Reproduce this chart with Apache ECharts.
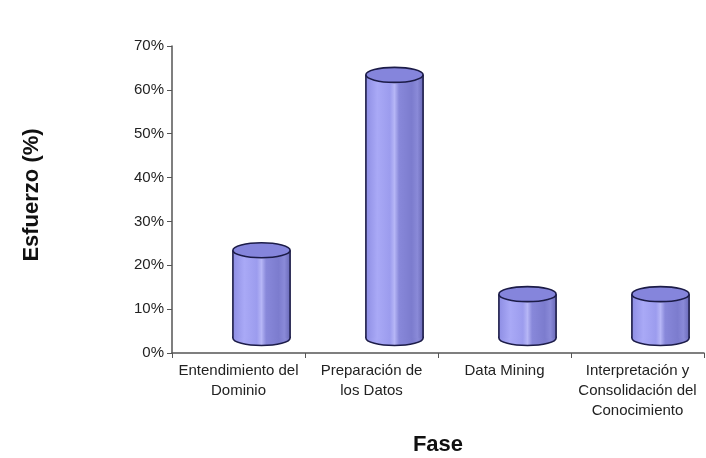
<!DOCTYPE html>
<html>
<head>
<meta charset="utf-8">
<script src="https://cdn.jsdelivr.net/npm/echarts@6/dist/echarts.min.js"></script>
<style>
  html, body { margin: 0; padding: 0; background: #fff; }
  #chart { width: 706px; height: 458px; }
</style>
</head>
<body>
<div id="chart"></div>
<script>
// data
const fases = [
  'Entendimiento del\nDominio',
  'Preparación de\nlos Datos',
  'Data Mining',
  'Interpretación y\nConsolidación del\nConocimiento'
];
const esfuerzo = [20, 60, 10, 10];
const yTicks = [0, 10, 20, 30, 40, 50, 60, 70];

const fontFamily = '"Liberation Sans", Arial, sans-serif';
// fake 3D depth of the old chart
const depthX = 23;
const depthY = 15;

const bodyFill = new echarts.graphic.LinearGradient(0, 0, 1, 0, [
  { offset: 0, color: '#8e8ee4' },
  { offset: 0.2, color: '#a9a9f6' },
  { offset: 0.42, color: '#9c9cee' },
  { offset: 0.5, color: '#b6b6f6' },
  { offset: 0.58, color: '#8888da' },
  { offset: 0.8, color: '#7c7cce' },
  { offset: 0.9, color: '#8a8ad8' },
  { offset: 1, color: '#6a6ab8' }
]);

function renderCylinder(params, api) {
  const idx = api.value(0);
  const top = api.coord([idx, api.value(1)]);
  const base = api.coord([idx, 0]);
  const band = api.size([1, 0])[0];
  const rx = band * 0.215;
  const ry = 7.5;
  const cx = top[0] + depthX;
  const yt = top[1] - depthY;
  const yb = base[1] - depthY;
  const stroke = { stroke: '#1c1c48', lineWidth: 1.6 };

  return {
    type: 'group',
    children: [
      {
        type: 'ellipse',
        shape: { cx: cx, cy: yb, rx: rx, ry: ry },
        style: Object.assign({ fill: bodyFill }, stroke)
      },
      {
        type: 'rect',
        shape: { x: cx - rx, y: yt, width: rx * 2, height: yb - yt },
        style: { fill: bodyFill }
      },
      {
        type: 'line',
        shape: { x1: cx - rx, y1: yt, x2: cx - rx, y2: yb },
        style: stroke
      },
      {
        type: 'line',
        shape: { x1: cx + rx, y1: yt, x2: cx + rx, y2: yb },
        style: stroke
      },
      {
        type: 'ellipse',
        shape: { cx: cx, cy: yt, rx: rx, ry: ry },
        style: Object.assign({ fill: '#8585dc' }, stroke)
      }
    ]
  };
}

const chart = echarts.init(document.getElementById('chart'));

chart.setOption({
  animation: false,
  backgroundColor: '#fff',
  grid: {
    left: 172,
    right: 2,
    top: 46,
    bottom: 105
  },
  xAxis: {
    type: 'category',
    data: fases,
    boundaryGap: true,
    axisLine: { lineStyle: { color: '#555', width: 1.5 } },
    axisTick: { show: true, interval: 0, length: 5, lineStyle: { color: '#555' } },
    axisLabel: {
      interval: 0,
      margin: 8,
      color: '#222',
      fontSize: 15,
      lineHeight: 20,
      fontFamily: fontFamily
    }
  },
  yAxis: {
    type: 'value',
    min: yTicks[0],
    max: yTicks[yTicks.length - 1],
    interval: yTicks[1] - yTicks[0],
    splitLine: { show: false },
    axisLine: { show: true, lineStyle: { color: '#555', width: 1.5 } },
    axisTick: { show: true, length: 5, lineStyle: { color: '#555' } },
    axisLabel: {
      formatter: '{value}%',
      margin: 8,
      color: '#222',
      fontSize: 15,
      fontFamily: fontFamily
    }
  },
  series: [
    {
      type: 'custom',
      renderItem: renderCylinder,
      encode: { x: 0, y: 1 },
      data: esfuerzo.map((v, i) => [i, v])
    }
  ],
  graphic: [
    {
      type: 'text',
      x: 32,
      y: 195,
      rotation: Math.PI / 2,
      style: {
        text: 'Esfuerzo (%)',
        font: 'bold 22px ' + fontFamily,
        fill: '#111',
        align: 'center',
        verticalAlign: 'middle'
      }
    },
    {
      type: 'text',
      x: 438,
      y: 445,
      style: {
        text: 'Fase',
        font: 'bold 22px ' + fontFamily,
        fill: '#111',
        align: 'center',
        verticalAlign: 'middle'
      }
    }
  ]
});
</script>
</body>
</html>
